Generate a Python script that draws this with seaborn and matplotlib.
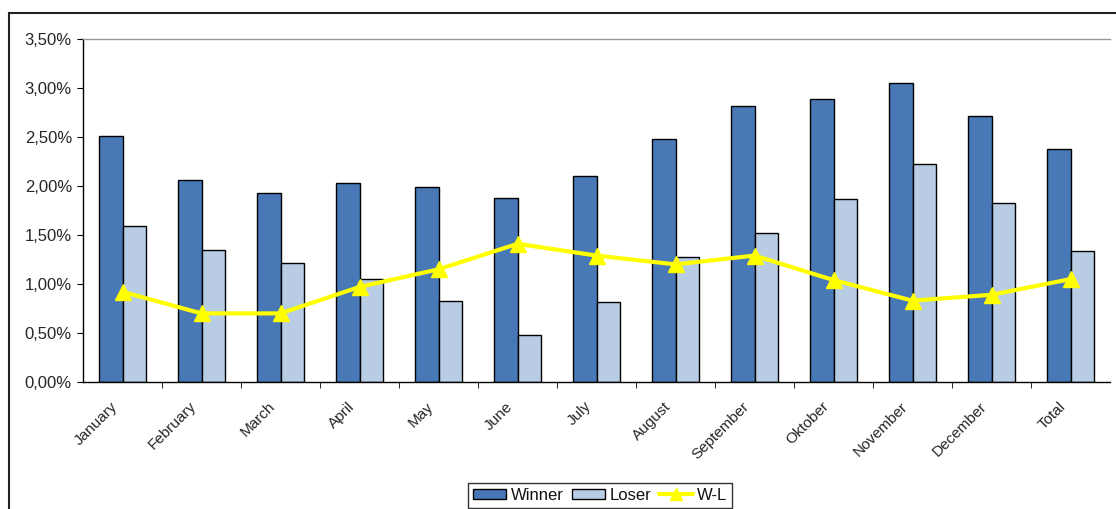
import numpy as np
import pandas as pd
import seaborn as sns
import matplotlib.pyplot as plt
from matplotlib.patches import Patch, Rectangle
from matplotlib.lines import Line2D
from matplotlib.ticker import FuncFormatter, FixedLocator

months = ["January", "February", "March", "April", "May", "June", "July",
          "August", "September", "Oktober", "November", "December", "Total"]
winner = [2.51, 2.06, 1.93, 2.03, 1.99, 1.88, 2.10, 2.48, 2.82, 2.89, 3.05, 2.71, 2.38]
loser = [1.59, 1.35, 1.21, 1.05, 0.83, 0.48, 0.82, 1.28, 1.52, 1.87, 2.22, 1.83, 1.34]
wl = [0.92, 0.70, 0.70, 0.97, 1.15, 1.41, 1.29, 1.20, 1.29, 1.04, 0.83, 0.89, 1.05]

df = pd.DataFrame({"month": months, "Winner": winner, "Loser": loser})
long_df = df.melt(id_vars="month", var_name="series", value_name="value")

sns.set_style("white")
plt.rcParams['font.family'] = ['Liberation Sans', 'DejaVu Sans']
plt.rcParams['font.size'] = 12
plt.rcParams['text.color'] = '#111111'

c_win = "#4878B6"
c_los = "#B8CCE4"

fig = plt.figure(figsize=(11.16, 5.09), dpi=100)
ax = fig.add_axes([83/1116, 1 - 382/509, (1110 - 83)/1116, (382 - 39)/509])

sns.barplot(data=long_df, x="month", y="value", hue="series",
            palette={"Winner": c_win, "Loser": c_los}, width=0.6, gap=0,
            edgecolor="black", linewidth=1, saturation=1, legend=False, ax=ax)
ax.plot(np.arange(len(months)), wl, color="#FFFF00", linewidth=3,
        marker="^", markersize=12, zorder=5)

ax.set_xlim(-0.5, len(months) - 0.5)
ax.set_ylim(0, 3.5)
ax.set_yticks(np.arange(0, 3.51, 0.5))
ax.yaxis.set_major_formatter(FuncFormatter(lambda v, p: f"{v:.2f}%".replace(".", ",")))
ax.set_xlabel(None)
ax.set_ylabel(None)
# label anchors sit a little left of the category centre (major ticks are invisible)
ax.set_xticks(np.arange(len(months)) - 0.09)
ax.set_xticklabels(months, rotation=45, ha="right", va="center",
                   rotation_mode="anchor", fontsize=11)
ax.xaxis.set_minor_locator(FixedLocator(np.arange(0.5, len(months) - 0.5, 1)))
ax.tick_params(axis="x", which="major", length=0, pad=16)
ax.tick_params(axis="x", which="minor", length=4, direction="out", color="black", bottom=True)
ax.tick_params(axis="y", length=4, direction="out", color="black", left=True, pad=4, labelsize=12)

for s in ["left", "bottom"]:
    ax.spines[s].set_color("black")
    ax.spines[s].set_linewidth(1)
ax.spines["top"].set_color("#999999")
ax.spines["top"].set_linewidth(1)
ax.spines["right"].set_visible(False)

handles = [Patch(facecolor=c_win, edgecolor="black", label="Winner"),
           Patch(facecolor=c_los, edgecolor="black", label="Loser"),
           Line2D([0], [0], color="#FFFF00", linewidth=3, marker="^", markersize=9, label="W-L")]
leg = fig.legend(handles=handles, loc="upper center", bbox_to_anchor=(600/1116, 1 - 483/509),
                 ncol=3, frameon=True, fancybox=False, edgecolor="black", fontsize=12,
                 handlelength=2.0, handleheight=0.6, handletextpad=0.25, columnspacing=0.5,
                 borderpad=0.3, borderaxespad=0)
leg.get_frame().set_linewidth(1)

fig.patches.append(Rectangle((9/1116, -0.1), 1.2, 1 - 13/509 + 0.1, transform=fig.transFigure,
                             fill=False, edgecolor="#222222", linewidth=1.5))

fig.savefig("out.png", dpi=100)
